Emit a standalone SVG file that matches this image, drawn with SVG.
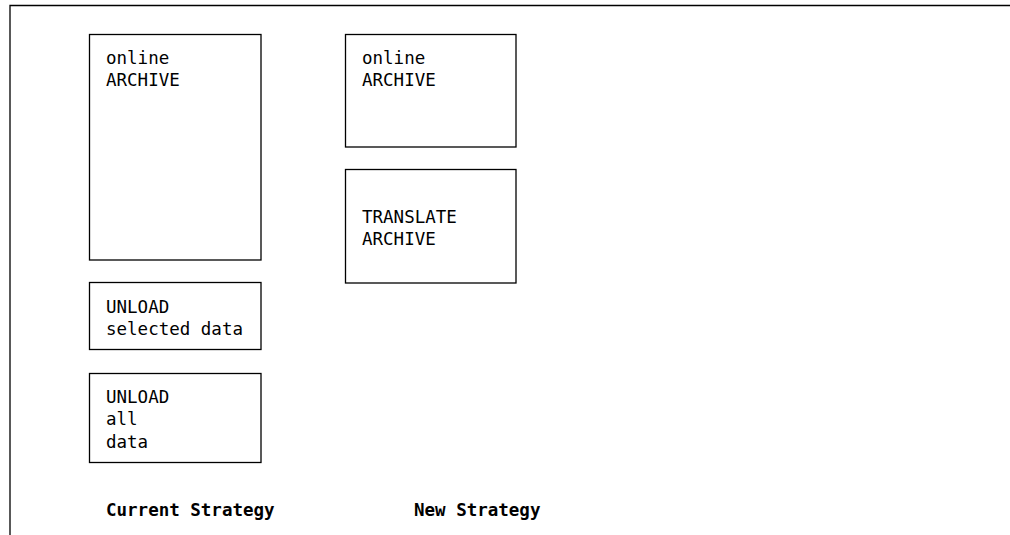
<svg xmlns="http://www.w3.org/2000/svg" width="1010" height="535" viewBox="0 0 1010 535">
<style>
.box{fill:#fff;stroke:#000;stroke-width:1.3}
.t{font-family:"DejaVu Sans Mono","Liberation Mono",monospace;font-size:17.5px;fill:#000}
.b{font-family:"DejaVu Sans Mono","Liberation Mono",monospace;font-size:17.5px;font-weight:bold;fill:#000}
.frame{stroke:#000;stroke-width:1.3;fill:none}
</style>
<rect width="1010" height="535" fill="#fff"/>
<path class="frame" d="M10,535 V5.5 H1010"/>
<g id="current-online-archive">
<rect class="box" x="89.5" y="34.5" width="171.5" height="225.5"/>
<text class="t" x="106" y="63.5">online</text>
<text class="t" x="106" y="86">ARCHIVE</text>
</g>
<g id="unload-selected">
<rect class="box" x="89.5" y="282.5" width="171.5" height="67"/>
<text class="t" x="106" y="312.5">UNLOAD</text>
<text class="t" x="106" y="335">selected data</text>
</g>
<g id="unload-all">
<rect class="box" x="89.5" y="373.5" width="171.5" height="89"/>
<text class="t" x="106" y="402.5">UNLOAD</text>
<text class="t" x="106" y="425">all</text>
<text class="t" x="106" y="447.5">data</text>
</g>
<g id="new-online-archive">
<rect class="box" x="345.5" y="34.5" width="170.5" height="112.5"/>
<text class="t" x="362" y="63.5">online</text>
<text class="t" x="362" y="86">ARCHIVE</text>
</g>
<g id="translate-archive">
<rect class="box" x="345.5" y="169.5" width="170.5" height="113.5"/>
<text class="t" x="362" y="222.5">TRANSLATE</text>
<text class="t" x="362" y="245">ARCHIVE</text>
</g>
<g id="connectors"></g>
<text class="b" x="106" y="516">Current Strategy</text>
<text class="b" x="414" y="516">New Strategy</text>
</svg>
